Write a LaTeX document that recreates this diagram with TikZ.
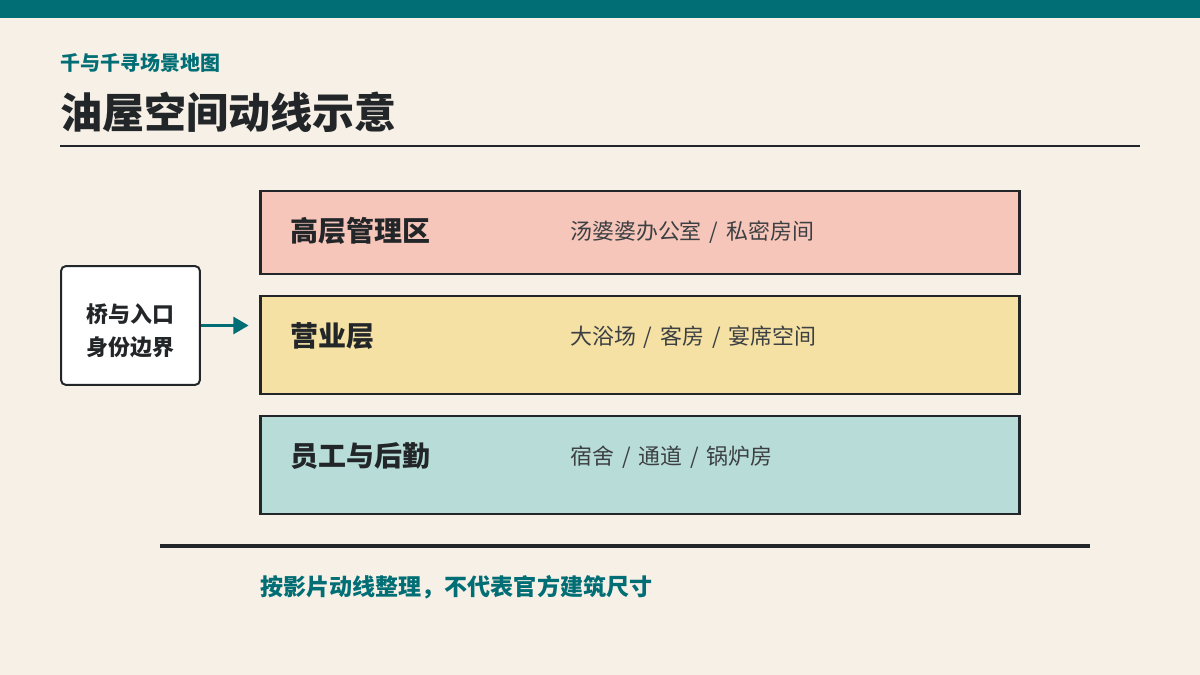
\documentclass[tikz,border=0pt]{standalone}
\usepackage{fontspec}
\setmainfont{Noto Sans CJK SC}
\newfontfamily\descFont{Noto Sans CJK SC}[WordSpace=1.6]
\usepackage{tikz}
\usetikzlibrary{positioning, calc, arrows.meta}
\definecolor{bgColor}{HTML}{F7F0E7}
\definecolor{tealColor}{HTML}{006E74}
\definecolor{inkColor}{HTML}{222629}
\definecolor{greyText}{HTML}{3C4043}
\definecolor{pinkFill}{HTML}{F7C6BA}
\definecolor{yellowFill}{HTML}{F5E1A4}
\definecolor{mintFill}{HTML}{B8DDD9}
\tikzstyle{zone}=[draw=inkColor, line width=2.1pt, minimum width=18.95cm, inner sep=0pt]
\tikzstyle{zoneTitle}=[anchor=west, inner sep=0pt, text=inkColor, font=\bfseries\fontsize{19.9}{24}\selectfont]
\tikzstyle{zoneText}=[anchor=west, inner sep=0pt, text=greyText, font=\descFont\fontsize{15.6}{19}\selectfont]
\tikzstyle{gate}=[draw=inkColor, fill=white, line width=1.4pt, rounded corners=0.12cm,
  minimum width=3.47cm, minimum height=2.97cm, align=center, text=inkColor,
  font=\bfseries\fontsize{15.6}{23.5}\selectfont]
\tikzstyle{flow}=[-{Triangle[length=0.38cm, width=0.42cm]}, draw=tealColor, line width=2.2pt]
\tikzstyle{rule}=[draw=inkColor]

\begin{document}
\begin{tikzpicture}[x=0.025cm, y=-0.025cm]
      \path[fill=bgColor] (0,0) rectangle (1200,675);
      \path[fill=tealColor] (0,0) rectangle (1200,18);

      \node[anchor=west, inner sep=0pt, text=tealColor, font=\bfseries\fontsize{14.2}{17}\selectfont] (subTitle) at (60,63) {千与千寻场景地图};
      \node[anchor=west, inner sep=0pt, text=inkColor, font=\bfseries\fontsize{29.9}{36}\selectfont] (mainTitle) at (60,112.5) {油屋空间动线示意};
      \coordinate (ruleTopL) at (60,146);
      \coordinate (ruleTopR) at (1140,146);
      \draw[rule, line width=1.4pt] (ruleTopL) -- (ruleTopR);

      \node[zone, fill=pinkFill, minimum height=2.075cm] (upper) at (640,232.5) {};
      \node[zone, fill=yellowFill, minimum height=2.45cm] (business) at (640,345) {};
      \node[zone, fill=mintFill, minimum height=2.45cm] (staff) at (640,465) {};

      \node[zoneTitle] (upperTitle) at (290,231) {高层管理区};
      \node[zoneText] (upperText) at (570,232) {汤婆婆办公室 / 私密房间};
      \node[zoneTitle] (businessTitle) at (290,336) {营业层};
      \node[zoneText] (businessText) at (570,337) {大浴场 / 客房 / 宴席空间};
      \node[zoneTitle] (staffTitle) at (290,456) {员工与后勤};
      \node[zoneText] (staffText) at (570,457) {宿舍 / 通道 / 锅炉房};

      \node[gate] (entrance) at (130.5,325.5) {\\[-0.1cm]桥与入口\\身份边界};
      \draw[flow, shorten >=0.27cm] (entrance.east) -- (entrance.east -| business.west);

      \coordinate (ruleBotL) at (160,546);
      \coordinate (ruleBotR) at (1090,546);
      \draw[rule, line width=2.5pt] (ruleBotL) -- (ruleBotR);
      \node[anchor=west, inner sep=0pt, text=tealColor, font=\bfseries\fontsize{16.4}{20}\selectfont] (footNote) at (260,587) {按影片动线整理，不代表官方建筑尺寸};

    \end{tikzpicture}
\end{document}
